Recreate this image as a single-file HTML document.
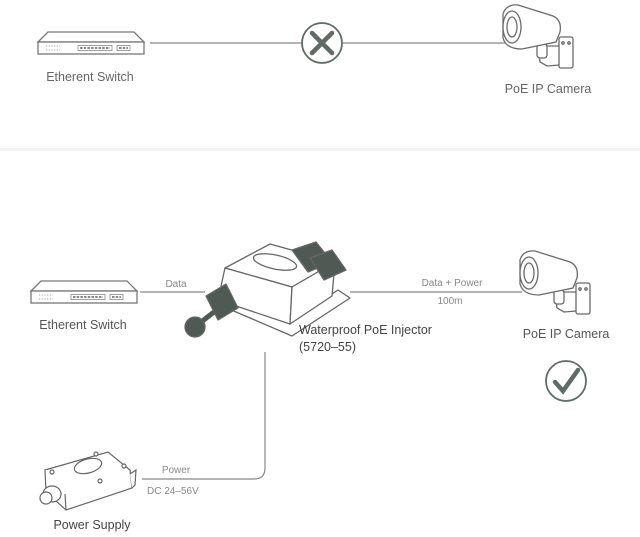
<!DOCTYPE html>
<html><head><meta charset="utf-8"><style>
html,body{margin:0;padding:0;background:#fff}
svg{display:block}
text{font-family:"Liberation Sans",sans-serif}
</style></head><body>
<svg width="640" height="537" viewBox="0 0 640 537" xmlns="http://www.w3.org/2000/svg">
<defs>
<g id="sw" fill="none" stroke="#777" stroke-width="1.3">
  <path d="M0,10 L10,0 L96,0 L106,10 Z" fill="#fff"/>
  <rect x="0" y="10" width="106" height="12" fill="#fff"/>
  <g stroke="#888" stroke-width="0.8">
    <path d="M8,14h14M8,18h14" stroke-dasharray="1.2 1.5"/>
    <rect x="40" y="13.5" width="34" height="5"/>
    <rect x="79" y="13.5" width="13" height="5"/>
    <path d="M42,16h30M81,16h9" stroke-dasharray="2.5 1.2" stroke-width="2"/>
  </g>
</g>
<g id="cam" fill="#fff" stroke="#6a6a6a" stroke-width="1.3">
  <path d="M538,46 L540,62 L547,66 L572,64 L572,46 Z"/>
  <rect x="559" y="37" width="14" height="31" rx="2"/>
  <circle cx="563" cy="43" r="1.2"/><circle cx="569" cy="43" r="1.2"/>
  <rect x="537" y="44" width="10" height="14" rx="3"/>
  <path d="M503,14 Q506,4 518,5 L553,16 Q562,20 560,32 L556,42 L522,49 Q506,49 503,38 Z"/>
  <ellipse cx="512" cy="27" rx="9" ry="16"/>
  <ellipse cx="512" cy="27" rx="5" ry="10"/>
</g>
</defs>

<rect x="0" y="148" width="640" height="3" fill="#f2f2f2"/>

<!-- TOP -->
<use href="#sw" x="38" y="32"/>
<text x="90" y="81" font-size="12.5" fill="#666" text-anchor="middle">Etherent Switch</text>
<line x1="150" y1="43" x2="302" y2="43" stroke="#888" stroke-width="1.2"/>
<line x1="343" y1="43" x2="505" y2="43" stroke="#888" stroke-width="1.2"/>
<circle cx="322" cy="43" r="20" fill="#fff" stroke="#5f6b64" stroke-width="1.8"/>
<path d="M312,33 L332,53 M332,33 L312,53" stroke="#5f6b64" stroke-width="4.5" stroke-linecap="round"/>
<use href="#cam"/>
<text x="548" y="93" font-size="12.5" fill="#666" text-anchor="middle">PoE IP Camera</text>

<!-- BOTTOM -->
<use href="#sw" x="31" y="281"/>
<text x="83" y="329" font-size="12.5" fill="#555" text-anchor="middle">Etherent Switch</text>
<line x1="140" y1="292" x2="205" y2="292" stroke="#888" stroke-width="1.2"/>
<text x="176" y="287" font-size="10" fill="#888" text-anchor="middle">Data</text>
<line x1="350" y1="292" x2="522" y2="292" stroke="#888" stroke-width="1.2"/>
<text x="452" y="286" font-size="10" fill="#888" text-anchor="middle">Data + Power</text>
<text x="450" y="304" font-size="10" fill="#888" text-anchor="middle">100m</text>

<!-- injector -->
<g stroke="#666" stroke-width="1.3" fill="#fff" stroke-linejoin="round">
  <path d="M208,300 L292,336 L350,298 L338,290 L290,322 L215,292 Z"/>
  <path d="M225,268 L270,244 L335,262 L292,287 Z"/>
  <path d="M225,268 L218,300 L290,324 L292,287 Z"/>
  <path d="M292,287 L290,324 L332,296 L335,262 Z"/>
  <ellipse cx="275" cy="262" rx="22" ry="7" transform="rotate(12 275 262)"/>
  <path d="M292,250 L316,242 L332,262 L308,272 Z" fill="#4f5a54"/>
  <path d="M310,258 L332,250 L346,270 L324,280 Z" fill="#4f5a54"/>
  <path d="M206,296 L226,284 L238,308 L218,320 Z" fill="#4f5a54"/>
  <path d="M196,326 L214,312" stroke-width="5" stroke="#4f5a54"/>
  <circle cx="195" cy="327" r="10" fill="#4f5a54"/>
</g>
<text x="299" y="334" font-size="12.5" fill="#444">Waterproof PoE Injector</text>
<text x="299" y="351" font-size="12.5" fill="#444">(5720–55)</text>

<use href="#cam" x="17" y="246"/>
<text x="566" y="338" font-size="12.5" fill="#555" text-anchor="middle">PoE IP Camera</text>
<circle cx="566" cy="381" r="20" fill="#fff" stroke="#5f6b64" stroke-width="1.8"/>
<path d="M555,382 L563,391 L578,370" fill="none" stroke="#5f6b64" stroke-width="4.5" stroke-linecap="round"/>

<path d="M265,352 L265,468 Q265,479 254,479 L142,479" fill="none" stroke="#888" stroke-width="1.2"/>
<text x="176" y="473" font-size="10" fill="#888" text-anchor="middle">Power</text>
<text x="147" y="494" font-size="10" fill="#888">DC 24–56V</text>

<g stroke="#666" stroke-width="1.2" fill="#fff">
  <path d="M45,470 L65,494 L130,470 L108,452 Z"/>
  <path d="M45,470 L46,492 L66,510 L132,488 L130,470"/>
  <path d="M65,494 L66,510"/>
  <ellipse cx="88" cy="466" rx="14" ry="7" transform="rotate(-15 88 466)"/>
  <circle cx="52" cy="472" r="2"/><circle cx="100" cy="481" r="2"/><circle cx="124" cy="466" r="2"/><circle cx="96" cy="454" r="2"/>
  <ellipse cx="52" cy="494" rx="9" ry="8"/>
  <ellipse cx="46" cy="498" rx="6" ry="6"/>
  <path d="M130,474 L136,470 L135,485 L132,488"/>
</g>
<text x="92" y="529" font-size="12.5" fill="#444" text-anchor="middle">Power Supply</text>
</svg>
</body></html>
